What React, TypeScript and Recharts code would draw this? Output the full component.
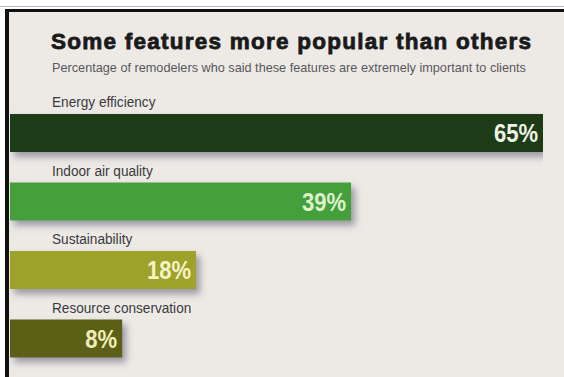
import { BarChart, Bar, XAxis, YAxis, Cell, LabelList } from 'recharts'

const features = ['Energy efficiency', 'Indoor air quality', 'Sustainability', 'Resource conservation']
const shares = [65, 39, 18, 8]
const barColors = ['#1e3a16', '#44a03a', '#9ca22c', '#5c5e16']
const valueColors = ['#eef3e6', '#dcf2cc', '#f6f2c4', '#f1edb6']

const data = features.map((name, i) => ({ name, value: shares[i] }))

// bars bleed past zero to the left edge, like the print graphic
const axisStart = -7.2
const axisEnd = 65

const sans = '"Liberation Sans", Arial, sans-serif'

function FeatureTick(props: any) {
  const { y, payload } = props
  return (
    <text transform={`translate(52,${y - 26}) scale(0.88,1)`} fill="#3a3a3e" fontSize={15.5} fontFamily={sans}>
      {payload.value}
    </text>
  )
}

function ShadowBar(props: any) {
  const { x, y, width, height, fill } = props
  if (!width || width <= 0) return null
  return <rect x={x} y={y} width={width} height={height} fill={fill} filter="url(#barShadow)" />
}

function ValueLabel(props: any) {
  const { x, y, width, height, index } = props
  return (
    <text
      transform={`translate(${x + width - 5},${y + height / 2 + 9}) scale(0.9,1.05)`}
      textAnchor="end"
      fill={valueColors[index]}
      fontSize={24.5}
      fontWeight="bold"
      fontFamily={sans}
    >
      {shares[index]}%
    </text>
  )
}

export default function App() {
  return (
    <div style={{ position: 'absolute', left: 0, top: 0, width: 564, height: 377, background: '#fff', overflow: 'hidden' }}>
      <svg width={0} height={0} style={{ position: 'absolute' }}>
        <defs>
          <filter id="barShadow" x="-10%" y="-30%" width="130%" height="190%">
            <feDropShadow dx={4} dy={5} stdDeviation={3.5} floodColor="#5a5470" floodOpacity={0.55} />
          </filter>
        </defs>
      </svg>
      <div style={{ position: 'absolute', left: 0, top: 6, width: 564, height: 1, background: '#b8b8b8' }} />
      <div
        style={{
          position: 'absolute',
          left: 5,
          top: 9,
          width: 564,
          height: 377,
          background: '#edeae5',
          borderLeft: '4px solid #111',
          borderTop: '3px solid #111',
        }}
      />
      <div
        style={{
          position: 'absolute',
          left: 51,
          top: 29,
          fontFamily: sans,
          fontWeight: 'bold',
          fontSize: 22.5,
          color: '#1a1a1a',
          letterSpacing: 1.25,
          whiteSpace: 'nowrap',
          WebkitTextStroke: '0.8px #1a1a1a',
        }}
      >
        Some features more popular than others
      </div>
      <div
        style={{
          position: 'absolute',
          left: 52,
          top: 61,
          fontFamily: sans,
          fontSize: 12.7,
          color: '#58585c',
          whiteSpace: 'nowrap',
        }}
      >
        Percentage of remodelers who said these features are extremely important to clients
      </div>
      <div style={{ position: 'absolute', left: 0, top: 0 }}>
        <BarChart
          width={564}
          height={377}
          data={data}
          layout="vertical"
          barCategoryGap={30}
          margin={{ top: 99, right: 21, bottom: 4, left: 9 }}
        >
          <XAxis type="number" domain={[axisStart, axisEnd]} allowDataOverflow hide />
          <YAxis
            type="category"
            dataKey="name"
            width={1}
            interval={0}
            axisLine={false}
            tickLine={false}
            tick={(p: any) => <FeatureTick {...p} />}
          />
          <Bar
            dataKey={(d: any) => [axisStart, d.value]}
            isAnimationActive={false}
            shape={(p: any) => <ShadowBar {...p} />}
            barSize={38}
          >
            {data.map((d, i) => (
              <Cell key={d.name} fill={barColors[i]} />
            ))}
            <LabelList content={(p: any) => <ValueLabel {...p} />} />
          </Bar>
        </BarChart>
      </div>
    </div>
  )
}
